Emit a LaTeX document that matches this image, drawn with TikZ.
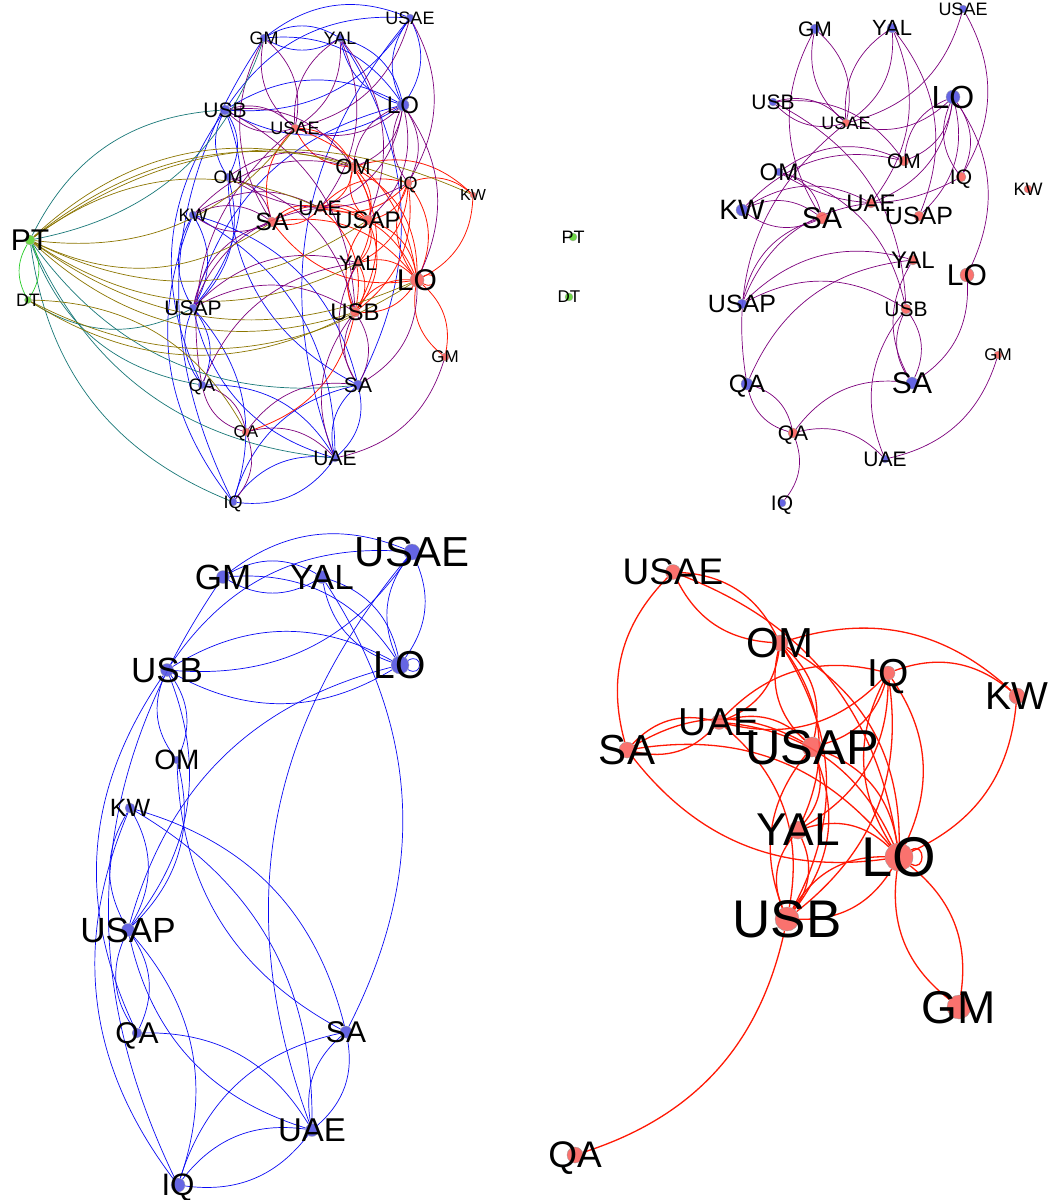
\documentclass[tikz,border=0pt]{standalone}
\usepackage{fontspec}
\setmainfont{Liberation Sans}
\usetikzlibrary{backgrounds}
\definecolor{eblue}{RGB}{10,10,245}
\definecolor{ered}{RGB}{255,25,5}
\definecolor{epurple}{RGB}{125,0,125}
\definecolor{eteal}{RGB}{25,120,120}
\definecolor{eolive}{RGB}{140,118,0}
\definecolor{egreen}{RGB}{40,205,40}
\definecolor{nblue}{RGB}{85,85,225}
\definecolor{nred}{RGB}{250,90,85}
\definecolor{ngreen}{RGB}{110,215,70}
\tikzset{
  vb/.style={circle, fill=nblue, fill opacity=0.9, draw=gray!70, line width=0.3pt, inner sep=0pt},
  vr/.style={circle, fill=nred, fill opacity=0.85, draw=gray!80, line width=0.3pt, inner sep=0pt},
  vg/.style={circle, fill=ngreen, draw=gray!70, line width=0.3pt, inner sep=0pt},
  lab/.style={inner sep=0pt, text=black, text depth=0pt},
  bedge/.style={draw=eblue, line width=0.7pt},
  redge/.style={draw=ered, line width=0.8pt},
  rthick/.style={draw=ered, line width=1.3pt},
  pedge/.style={draw=epurple, line width=0.7pt},
  tedge/.style={draw=eteal, line width=0.7pt},
  oedge/.style={draw=eolive, line width=0.7pt},
  gedge/.style={draw=egreen, line width=0.7pt},
}
\def\BlueE{GM/YAL, YAL/GM, USB/USAE, USAE/USB, GM/USAE, GM/LO, YAL/LO, LO/YAL, USAE/LO, LO/USAE, USB/LO, LO/USB, USB/OM, OM/USB, IQ/GM, USAP/LO, UAE/USAE, YAL/SA, SA/OM, KW/SA, KW/USAP, USAP/KW, OM/USAP, USB/USAP, USAP/QA, QA/USAP, UAE/USAP, USAP/IQ, QA/UAE, IQ/UAE, UAE/IQ, IQ/SA, SA/UAE, UAE/SA, IQ/KW, QA/USB, KW/UAE}
\def\RedE{USAE/OM, OM/USAE, SA/USAE, OM/KW, IQ/KW, KW/LO, OM/UAE, OM/USAP, USAP/OM, OM/LO, OM/USB, OM/YAL, IQ/UAE, UAE/IQ, IQ/USAP, IQ/LO, LO/IQ, IQ/USB, IQ/YAL, UAE/SA, SA/UAE, LO/SA, SA/USAP, UAE/USAP, UAE/USB, UAE/LO, USAP/YAL, USAP/USB, USB/USAP, USAP/LO, YAL/USB, USB/YAL, YAL/LO, LO/USB, USB/LO, LO/GM, GM/LO, USB/QA, USAE/LO, SA/LO}
\def\PurpE{bGM/rUSAE, rUSAE/bGM, rSA/bGM, bYAL/rUSAE, rUSAE/bYAL, bYAL/rUAE, bYAL/rUSAP, bUSAE/rUSAE, bUSAE/rIQ, bLO/rUSAE, bLO/rOM, rOM/bLO, bLO/rIQ, rIQ/bLO, bLO/rUSAP, bLO/rUAE, bLO/rLO, bUSB/rUSAE, rUSAE/bUSB, bUSB/rOM, bOM/rUSB, bOM/rOM, rIQ/bOM, bOM/rSA, bKW/rUAE, bKW/rSA, rSA/bKW, bKW/rOM, bUSAP/rSA, bUSAP/rUAE, bUSAP/rUSB, bUSAP/rYAL, bQA/rQA, rQA/bQA, bQA/rUSAE, bQA/rYAL, bSA/rUSB, rUSB/bSA, rLO/bSA, rQA/bSA, bSA/rYAL, rQA/bUAE, rGM/bUAE, bUAE/rUSB, rQA/bIQ, bUSB/rUSB}
\def\TealE{PT/bUSB, bGM/PT, bSA/PT, bUAE/PT, bIQ/PT, bUSAP/DT, bQA/PT}
\def\OliveE{PT/rOM, PT/rIQ, rUSAE/PT, PT/rUAE, rSA/PT, rUSAP/PT, rYAL/PT, rLO/PT, rUSB/PT, rLO/DT, rUSB/DT, DT/rQA, PT/rKW}
\begin{document}
\begin{tikzpicture}[x=1pt, y=-1pt]
\useasboundingbox (0,0) rectangle (1051,1200);
% ---------------- panel A : nodes
\foreach \n/\x/\y/\r in {GM/264/38/4, YAL/340/38/4, USAE/410/18/4, USB/225/110/5, LO/403/105/6, OM/228/177/4, KW/193/215/4, USAP/193/308/4, QA/202/385/4, SA/358/385/5, UAE/335/458/4, IQ/233/502/4}
  \node[vb, minimum size=2*\r] (Ab\n) at (\x,\y) {};
\foreach \n/\x/\y/\r in {USAE/295/128/4, OM/353/167/5, IQ/408/183/4, KW/473/195/3, UAE/320/208/4, SA/272/222/5, USAP/368/220/5, YAL/358/263/4, LO/417/280/7, USB/355/312/5, GM/445/357/4, QA/246/432/4}
  \node[vr, minimum size=2*\r] (Ar\n) at (\x,\y) {};
\node[vg, minimum size=10] (APT) at (30,240) {};
\node[vg, minimum size=7] (ADT) at (28,300) {};
% ---------------- panel B : nodes
\foreach \n/\x/\y/\r in {GM/815/29/5, YAL/892/28/5, USAE/963/9/4, USB/773/102/4, LO/953/97/7, OM/779/172/4, KW/742/210/6, USAP/742/304/5, QA/747/384/6, SA/912/383/6, UAE/885/459/4, IQ/782/503/4}
  \node[vb, minimum size=2*\r] (Bb\n) at (\x,\y) {};
\foreach \n/\x/\y/\r in {USAE/846/123/4, OM/904/161/5, IQ/961/177/5, KW/1028/189/4, UAE/871/203/5, SA/822/218/6, USAP/919/216/5, YAL/913/260/5, LO/967/275/7, USB/906/309/5, GM/998/355/4, QA/793/433/5}
  \node[vr, minimum size=2*\r] (Br\n) at (\x,\y) {};
\node[vg, minimum size=8] (BPT) at (573,237) {};
\node[vg, minimum size=8] (BDT) at (569,297) {};
% ---------------- panel C : nodes
\foreach \n/\x/\y/\r in {USAE/412/552/8, GM/223/577/6.5, YAL/322/577/6.5, USB/167/670/6.5, LO/400/665/9, OM/177/760/4, KW/130/808/5, USAP/128/930/6.5, QA/137/1033/5, SA/346/1032/6, UAE/312/1130/6.5, IQ/178/1185/7}
  \node[vb, minimum size=2*\r] (Cb\n) at (\x,\y) {};
% ---------------- panel D : nodes
\foreach \n/\x/\y/\r in {USAE/673/572/7.5, OM/780/643/8, IQ/888/673/7, KW/1017/696/8, UAE/719/722/7.5, SA/627/750/8, USAP/812/747/10, YAL/798/830/9, LO/899/857/14, USB/787/919/12, GM/959/1007/12, QA/575/1155/8}
  \node[vr, minimum size=2*\r] (Dr\n) at (\x,\y) {};
% ---------------- edges
\begin{scope}[on background layer]
  \fill[white] (0,0) rectangle (1051,1200);
  \foreach \u/\v in \BlueE {
    \draw[bedge] (Ab\u) to[bend left=30] (Ab\v);
    \draw[bedge] (Cb\u) to[bend left=30] (Cb\v);
  }
  \foreach \u/\v in \RedE {
    \draw[redge] (Ar\u) to[bend left=30] (Ar\v);
    \draw[rthick] (Dr\u) to[bend left=30] (Dr\v);
  }
  \foreach \u/\v in \PurpE {
    \draw[pedge] (A\u) to[bend left=30] (A\v);
    \draw[pedge] (B\u) to[bend left=30] (B\v);
  }
  \foreach \u/\v in \TealE { \draw[tedge] (A\u) to[bend left=30] (A\v); }
  \foreach \u/\v in \OliveE { \draw[oedge] (A\u) to[bend left=30] (A\v); }
  \draw[gedge] (APT) to[bend left=30] (ADT);
  \draw[gedge] (ADT) to[bend left=30] (APT);
  \draw[redge] (ArLO) to[out=30, in=-30, looseness=6] (ArLO);
  \draw[bedge] (CbLO) to[out=30, in=-30, looseness=5] (CbLO);
  \draw[rthick] (DrLO) to[out=30, in=-30, looseness=3] (DrLO);
\end{scope}
% ---------------- labels
\foreach \p/\c/\n/\x/\y/\f in {
  A/b/GM/264/38/18, A/b/YAL/340/38/18, A/b/USAE/410/18/18, A/b/USB/225/110/21, A/b/LO/403/105/24, A/b/OM/228/177/18, A/b/KW/193/215/18, A/b/USAP/193/308/21, A/b/QA/202/385/18, A/b/SA/358/385/21, A/b/UAE/335/458/21, A/b/IQ/233/502/18,
  A/r/USAE/295/128/18, A/r/OM/353/167/22, A/r/IQ/408/183/18, A/r/KW/473/195/16, A/r/UAE/320/208/21, A/r/SA/272/222/25, A/r/USAP/368/220/24, A/r/YAL/358/263/21, A/r/LO/417/280/30, A/r/USB/355/312/24, A/r/GM/445/357/17, A/r/QA/246/432/17,
  A//PT/30/240/30, A//DT/28/300/18,
  B/b/GM/815/29/21, B/b/YAL/892/28/22, B/b/USAE/963/9/18, B/b/USB/773/102/21, B/b/LO/953/97/32, B/b/OM/779/172/24, B/b/KW/742/210/28, B/b/USAP/742/304/25, B/b/QA/747/384/25, B/b/SA/912/383/30, B/b/UAE/885/459/21, B/b/IQ/782/503/21,
  B/r/USAE/846/123/18, B/r/OM/904/161/21, B/r/IQ/961/177/21, B/r/KW/1028/189/18, B/r/UAE/871/203/24, B/r/SA/822/218/30, B/r/USAP/919/216/25, B/r/YAL/913/260/24, B/r/LO/967/275/30, B/r/USB/906/309/21, B/r/GM/998/355/17, B/r/QA/793/433/21,
  B//PT/573/237/18, B//DT/569/297/17,
  C/b/USAE/412/552/42, C/b/GM/223/577/35, C/b/YAL/322/577/35, C/b/USB/167/670/35, C/b/LO/400/665/39, C/b/OM/177/760/28, C/b/KW/130/808/25, C/b/USAP/128/930/35, C/b/QA/137/1033/30, C/b/SA/346/1032/30, C/b/UAE/312/1130/33, C/b/IQ/178/1185/31,
  D/r/USAE/673/572/37, D/r/OM/780/643/42, D/r/IQ/888/673/39, D/r/KW/1017/696/39, D/r/UAE/719/722/39, D/r/SA/627/750/42, D/r/USAP/812/747/49, D/r/YAL/798/830/46, D/r/LO/899/857/56, D/r/USB/787/919/53, D/r/GM/959/1007/46, D/r/QA/575/1155/37}
  \node[lab, font=\fontsize{\f}{\f}\selectfont] (\p\c\n-t) at (\x,\y) {\n};
\end{tikzpicture}
\end{document}
